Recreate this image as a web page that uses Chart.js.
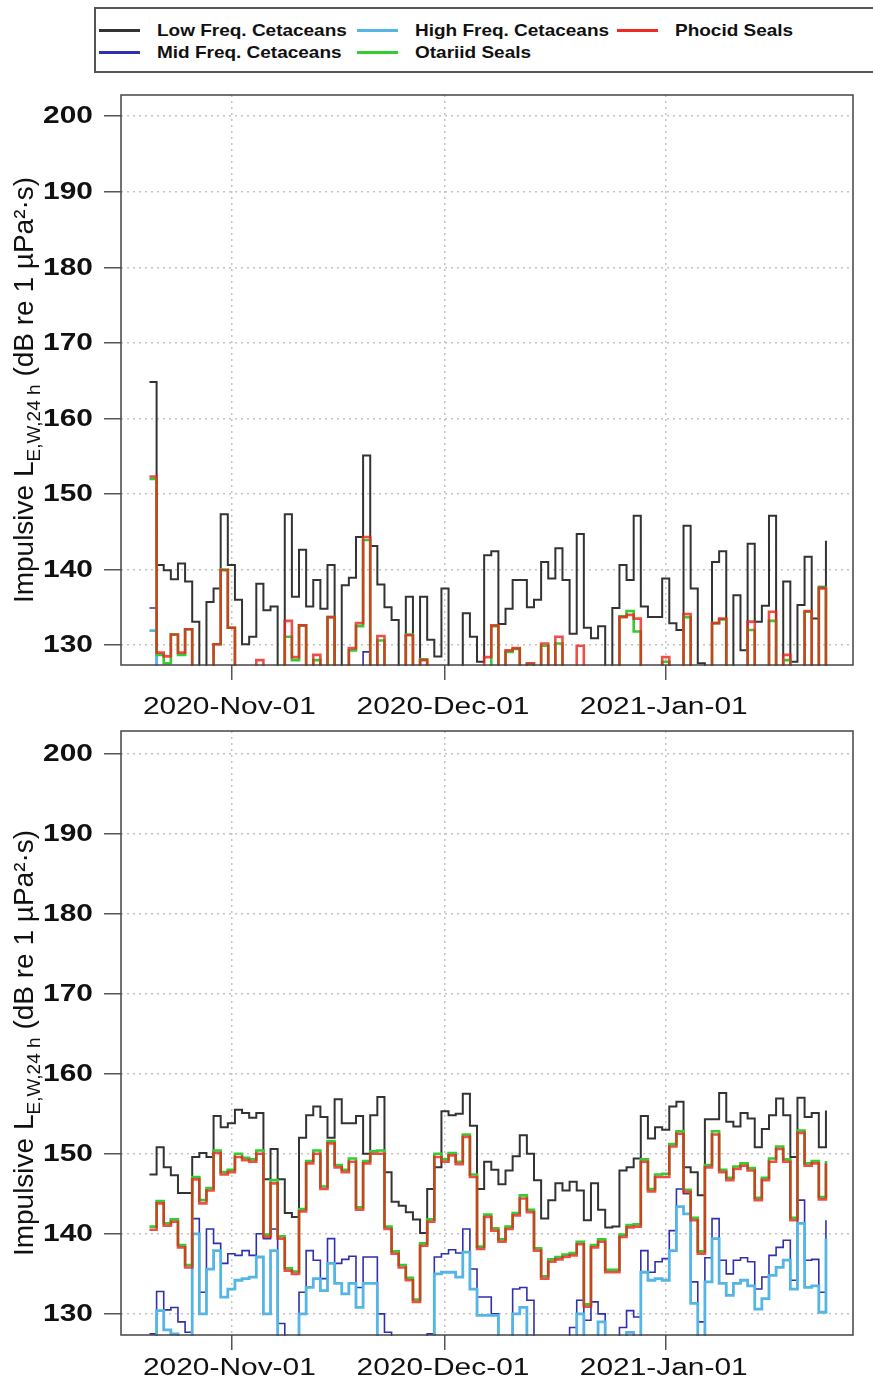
<!DOCTYPE html>
<html>
<head>
<meta charset="utf-8">
<title>Impulsive sound exposure</title>
<script src="https://cdn.jsdelivr.net/npm/chart.js@4.4.1/dist/chart.umd.min.js"></script>
<style>
  html, body { margin: 0; padding: 0; background: #fff; overflow: hidden; }
  body { width: 873px; height: 1393px; position: relative; font-family: "Liberation Sans", Arial, sans-serif; }
  #legend { position: absolute; left: 94px; top: 7px; width: 800px; height: 62px; border: 2px solid #555; }
  .item { position: absolute; height: 20px; width: 250px; }
  .item i { position: absolute; left: 0; top: 9px; width: 41px; height: 3px; }
  .item span { position: absolute; left: 58px; top: 0; font-weight: bold; font-size: 16.5px; line-height: 20px;
               white-space: nowrap; transform: scaleX(1.15); transform-origin: left center; color: #111; }
  .panel { position: absolute; left: 0; }
</style>
</head>
<body>
<div id="legend"></div>
<canvas id="top" class="panel" style="top:80px" width="873" height="650"></canvas>
<canvas id="bottom" class="panel" style="top:730px" width="873" height="663"></canvas>
<script>
// daily values from 2020-10-20 to 2021-01-23 (96 days)
const firstDay = '2020-10-20';
const nDays = 96;

const seriesNames = ['Low Freq. Cetaceans', 'Mid Freq. Cetaceans', 'High Freq. Cetaceans', 'Otariid Seals', 'Phocid Seals'];
const seriesColors = ['#333333', '#2f2fb0', '#55b5e5', '#33cc33', '#ee2a22'];

const yTicks = [130, 140, 150, 160, 170, 180, 190, 200];
const xTickDates = ['2020-11-01', '2020-12-01', '2021-01-01'];
const xTickLabels = ['2020-Nov-01', '2020-Dec-01', '2021-Jan-01'];

// upper panel
const topLow = [164.8, 140.6, 139.9, 138.7, 140.8, 138.4, 133.1, 122, 135.7, 137.5, 147.3, 140.6, 136.0, 130.1, 131.1, 138.1,
  134.6, 135.1, 122, 147.3, 136.4, 142.6, 135.1, 138.6, 134.8, 140.6, 122, 137.9, 138.9, 144.3, 155.1, 143.1,
  138.0, 135.0, 133.3, 122, 136.4, 122, 136.4, 130.7, 128.5, 137.5, 122, 122, 134.2, 131.1, 127.8, 141.9,
  142.4, 132.8, 134.8, 138.6, 138.6, 135.0, 136.0, 141.0, 138.8, 142.8, 138.6, 131.5, 144.7, 132.3, 130.9, 132.5,
  122, 134.9, 140.6, 138.6, 147.1, 135.1, 133.7, 133.7, 138.8, 132.9, 132.0, 145.8, 137.5, 127.6, 122, 141.0,
  142.4, 122, 136.6, 129.3, 143.4, 133.1, 135.2, 147.1, 122, 138.4, 127.8, 135.3, 141.7, 133.5, 137.7, 143.8];
const topMid = [134.9, 122, 122, 122, 122, 122, 122, 122, 122, 122, 122, 122, 122, 122, 122, 122,
  122, 122, 122, 122, 122, 122, 122, 122, 122, 122, 122, 122, 122, 122, 129.1, 122,
  122, 122, 122, 122, 122, 122, 122, 122, 122, 122, 122, 122, 122, 122, 122, 122,
  122, 122, 122, 122, 122, 122, 122, 122, 122, 122, 122, 122, 122, 122, 122, 122,
  122, 122, 122, 122, 122, 122, 122, 122, 122, 122, 122, 122, 122, 122, 122, 122,
  122, 122, 122, 122, 122, 122, 122, 122, 122, 122, 122, 122, 122, 122, 122, 122];
const topHigh = [131.9, 122, 122, 122, 122, 122, 122, 122, 122, 122, 122, 122, 122, 122, 122, 122,
  122, 122, 122, 122, 122, 122, 122, 122, 122, 122, 122, 122, 122, 122, 122, 122,
  122, 122, 122, 122, 122, 122, 122, 122, 122, 122, 122, 122, 122, 122, 122, 122,
  122, 122, 122, 122, 122, 122, 122, 122, 122, 122, 122, 122, 122, 122, 122, 122,
  122, 122, 122, 122, 122, 122, 122, 122, 122, 122, 122, 122, 122, 122, 122, 122,
  122, 122, 122, 122, 122, 122, 122, 122, 122, 122, 122, 122, 122, 122, 122, 122];
const topOtariid = [152.0, 128.7, 127.6, 131.4, 128.7, 132.1, 122, 122, 122, 130.1, 140.0, 132.3, 122, 122, 122, 122,
  122, 122, 122, 131.1, 128.0, 132.6, 122, 128.0, 122, 133.7, 122, 122, 129.3, 132.5, 143.9, 122,
  130.6, 122, 122, 122, 131.4, 122, 128.1, 122, 122, 122, 122, 122, 122, 122, 122, 122,
  132.5, 122, 129.1, 129.5, 122, 127.5, 122, 129.9, 122, 130.2, 122, 122, 122, 122, 122, 122,
  122, 122, 133.8, 134.5, 131.8, 122, 122, 122, 127.8, 122, 122, 133.7, 122, 122, 122, 132.9,
  133.4, 122, 122, 122, 132.0, 122, 122, 133.2, 122, 128.0, 122, 122, 134.4, 122, 137.6, 122];
const topPhocid = [152.3, 129.0, 128.5, 131.4, 129.0, 132.1, 122, 122, 122, 130.1, 139.9, 132.3, 122, 122, 122, 128.0,
  122, 122, 122, 133.2, 128.4, 132.6, 122, 128.7, 122, 133.7, 122, 122, 129.6, 132.9, 144.3, 122,
  131.2, 122, 122, 122, 131.3, 122, 128.0, 122, 122, 122, 122, 122, 122, 122, 122, 128.4,
  132.6, 122, 129.3, 129.6, 122, 127.6, 122, 130.2, 122, 131.1, 122, 122, 129.9, 122, 122, 122,
  122, 122, 133.7, 134.0, 133.5, 122, 122, 122, 128.4, 122, 122, 134.1, 122, 122, 122, 132.9,
  133.5, 122, 122, 122, 133.1, 122, 122, 134.4, 122, 128.7, 122, 122, 134.5, 122, 137.5, 122];

// lower panel
const botLow = [147.4, 150.8, 148.3, 147.3, 145.1, 145.1, 149.6, 150.1, 149.6, 154.7, 153.3, 153.8, 155.5, 155.1, 154.5, 155.1,
  146.8, 150.6, 146.8, 142.6, 142.1, 152.0, 154.8, 155.9, 154.6, 152.0, 156.8, 153.8, 153.8, 154.7, 150.0, 154.8,
  157.1, 147.7, 144.0, 143.5, 142.7, 141.8, 140.1, 145.6, 148.3, 155.3, 154.8, 155.0, 157.5, 153.5, 145.6, 149.0,
  148.0, 146.2, 147.9, 149.7, 152.3, 150.0, 146.7, 141.9, 144.2, 146.3, 145.4, 146.5, 145.4, 141.7, 146.3, 143.0,
  140.8, 140.9, 147.9, 148.3, 149.4, 154.7, 151.9, 153.3, 153.0, 155.9, 156.5, 148.3, 147.7, 144.8, 154.3, 154.3,
  157.6, 154.0, 153.4, 155.1, 154.4, 150.8, 153.1, 154.8, 156.9, 154.8, 149.6, 157.0, 154.6, 155.1, 150.8, 155.4];
const botMid = [127.5, 132.8, 130.5, 130.8, 129.0, 127.7, 141.9, 132.7, 140.6, 138.8, 136.3, 137.5, 137.3, 137.9, 137.3, 140.0,
  139.4, 140.6, 128.8, 122, 122, 132.7, 137.9, 136.7, 134.4, 139.4, 136.3, 136.8, 137.2, 133.3, 137.1, 137.1,
  130.0, 127.7, 122, 122, 122, 122, 122, 127.5, 137.1, 137.5, 138.0, 137.6, 140.6, 135.6, 132.1, 132.1,
  130.0, 122, 122, 133.1, 133.3, 131.7, 122, 122, 122, 122, 122, 128.3, 131.7, 129.2, 131.5, 130.0,
  122, 122, 128.3, 130.4, 129.6, 137.9, 135.2, 136.5, 136.9, 140.4, 145.6, 145.0, 134.0, 129.0, 137.0, 141.9,
  136.7, 135.0, 136.7, 137.0, 136.5, 133.1, 134.6, 137.3, 138.3, 139.2, 134.2, 144.2, 136.7, 136.8, 132.7, 141.7];
const botHigh = [122, 130.4, 128.0, 127.5, 122, 122, 140.0, 130.0, 135.6, 137.9, 132.1, 133.1, 134.2, 134.4, 134.6, 137.1,
  130.0, 137.9, 122, 122, 122, 130.0, 133.3, 134.4, 132.9, 136.3, 133.8, 132.5, 133.8, 130.8, 133.8, 133.8,
  122, 122, 122, 122, 122, 122, 122, 122, 135.0, 135.2, 135.2, 134.6, 137.7, 133.1, 129.8, 129.8,
  129.8, 122, 122, 130.0, 130.8, 122, 122, 122, 122, 122, 122, 122, 130.0, 122, 122, 129.0,
  122, 122, 122, 127.7, 122, 135.2, 134.2, 134.4, 134.2, 137.9, 143.4, 142.5, 131.3, 122, 134.0, 139.4,
  133.8, 132.3, 133.8, 134.2, 133.5, 130.6, 131.9, 134.8, 135.8, 136.7, 133.1, 141.3, 133.3, 133.5, 130.2, 139.4];
const botOtariid = [140.9, 144.1, 141.3, 141.8, 138.6, 136.1, 147.1, 144.2, 145.7, 150.4, 147.7, 148.0, 150.0, 149.5, 149.3, 150.4,
  139.9, 146.7, 139.7, 135.7, 135.3, 143.1, 149.1, 150.4, 145.9, 151.6, 148.6, 148.0, 149.4, 143.3, 149.1, 150.3,
  150.4, 140.9, 137.8, 136.1, 134.5, 131.8, 138.8, 141.8, 150.0, 149.3, 150.1, 149.0, 152.4, 147.4, 138.4, 142.4,
  140.7, 139.3, 140.9, 142.6, 144.8, 143.0, 138.2, 134.7, 136.8, 137.1, 137.4, 137.6, 139.0, 131.2, 138.6, 139.3,
  135.5, 135.5, 139.9, 141.1, 141.2, 149.3, 145.6, 147.4, 147.5, 151.2, 152.8, 145.5, 142.0, 137.8, 148.6, 152.8,
  148.0, 147.0, 148.4, 148.8, 148.2, 144.5, 147.0, 149.4, 150.9, 149.3, 142.0, 152.9, 148.8, 149.1, 144.6, 149.1];
const botPhocid = [140.5, 143.8, 141.0, 141.5, 138.3, 135.8, 146.8, 143.8, 145.4, 150.1, 147.4, 147.7, 149.6, 149.2, 149.0, 150.0,
  139.6, 146.3, 139.4, 135.4, 135.0, 142.8, 148.8, 150.0, 145.6, 151.3, 148.3, 147.7, 149.0, 143.0, 148.8, 150.0,
  150.0, 140.6, 137.5, 135.8, 134.2, 131.5, 138.5, 141.5, 149.6, 149.0, 149.8, 148.7, 152.1, 147.1, 138.1, 142.1,
  140.4, 139.0, 140.6, 142.3, 144.4, 142.7, 137.9, 134.4, 136.5, 136.8, 137.1, 137.3, 138.7, 130.9, 138.3, 139.0,
  135.2, 135.2, 139.6, 140.8, 140.9, 149.0, 145.3, 147.1, 147.1, 150.9, 152.5, 145.2, 141.7, 137.5, 148.3, 152.4,
  147.7, 146.7, 148.1, 148.5, 147.9, 144.2, 146.7, 149.0, 150.6, 149.0, 141.7, 152.6, 148.5, 148.8, 144.3, 148.8];

// x is measured in days from 2020-11-01, each day plotted at midday
const DAY = 86400000;
const origin = Date.UTC(2020, 10, 1);
const dayOf = s => (Date.parse(s + 'T00:00:00Z') - origin) / DAY;
const dayX = [];
for (let i = 0; i < nDays; i++) dayX.push(dayOf(firstDay) + i + 0.5);
const xTicks = xTickDates.map(dayOf);

// legend, three columns filled top to bottom
const legendSlots = [[3, 11], [3, 33], [261, 11], [261, 33], [521, 11]];
const legendEl = document.getElementById('legend');
seriesNames.forEach((name, i) => {
  const d = document.createElement('div');
  d.className = 'item';
  d.style.left = legendSlots[i][0] + 'px';
  d.style.top = legendSlots[i][1] + 'px';
  d.innerHTML = '<i style="background:' + seriesColors[i] + '"></i><span>' + name + '</span>';
  legendEl.appendChild(d);
});

// frame, tick labels and the y title (with its subscript)
const axisText = {
  id: 'axisText',
  afterDraw(chart, args, opts) {
    const { ctx, chartArea: a } = chart;
    const xs = chart.scales.x, ys = chart.scales.y;
    ctx.save();
    ctx.strokeStyle = '#444';
    ctx.lineWidth = 1.5;
    ctx.strokeRect(a.left, a.top, a.right - a.left, a.bottom - a.top);

    ctx.fillStyle = '#111';
    ctx.font = 'bold 23px "Liberation Sans", Arial, sans-serif';
    ctx.textAlign = 'right';
    ctx.textBaseline = 'middle';
    ys.ticks.forEach(t => {
      ctx.save();
      ctx.translate(93, ys.getPixelForValue(t.value) + 1);
      ctx.scale(1.3, 1);
      ctx.fillText(String(t.value), 0, 0);
      ctx.restore();
    });

    ctx.font = '23px "Liberation Sans", Arial, sans-serif';
    ctx.textAlign = 'center';
    ctx.textBaseline = 'alphabetic';
    xs.ticks.forEach((t, i) => {
      ctx.save();
      ctx.translate(xs.getPixelForValue(t.value) - 2, a.bottom + opts.labelOffset);
      ctx.scale(1.3, 1);
      ctx.fillText(xTickLabels[i], 0, 0);
      ctx.restore();
    });

    const parts = [
      { s: 'Impulsive L', f: '28px', dy: 0 },
      { s: 'E,W,24 h', f: '19px', dy: 7 },
      { s: ' (dB re 1 µPa²·s)', f: '28px', dy: 0 }
    ];
    let total = 0;
    parts.forEach(p => {
      ctx.font = p.f + ' "Liberation Sans", Arial, sans-serif';
      p.w = ctx.measureText(p.s).width;
      total += p.w;
    });
    ctx.translate(opts.titleX, (a.top + a.bottom) / 2 + 10);
    ctx.rotate(-Math.PI / 2);
    ctx.textAlign = 'left';
    let cx = -total / 2;
    parts.forEach(p => {
      ctx.font = p.f + ' "Liberation Sans", Arial, sans-serif';
      ctx.fillText(p.s, cx, p.dy);
      cx += p.w;
    });
    ctx.restore();
  }
};

function makePanel(id, values, padTop, xHeight, labelOffset) {
  const widths = [2, 1.6, 2.8, 2.6, 2.6];
  const colors = ['#333333', '#2f2fb0', '#55b5e5', '#33cc33', 'rgba(235, 35, 28, 0.8)'];
  const datasets = values.map((v, s) => ({
    label: seriesNames[s],
    data: v.map((y, i) => ({ x: dayX[i], y: y })),
    borderColor: colors[s],
    borderWidth: widths[s],
    stepped: true,
    pointRadius: 0,
    fill: false,
    clip: 1,
    order: 5 - s
  }));
  return new Chart(document.getElementById(id), {
    type: 'line',
    data: { datasets: datasets },
    options: {
      responsive: false,
      animation: false,
      devicePixelRatio: 1,
      events: [],
      layout: { padding: { top: padTop, right: 20, left: 0, bottom: 0 } },
      plugins: {
        legend: { display: false },
        tooltip: { enabled: false },
        axisText: { labelOffset: labelOffset, titleX: 33 }
      },
      scales: {
        x: {
          type: 'linear',
          min: -15.5,
          max: 87.3,
          afterBuildTicks: sc => { sc.ticks = xTicks.map(v => ({ value: v })); },
          afterFit: sc => { sc.height = xHeight; },
          ticks: { display: false },
          grid: { color: '#c4c4c4', lineWidth: 1.5, tickLength: 15, tickColor: '#555', tickWidth: 1.5 },
          border: { display: false, dash: [2, 4] }
        },
        y: {
          min: 127.36,
          max: 202.8,
          afterBuildTicks: sc => { sc.ticks = yTicks.map(v => ({ value: v })); },
          afterFit: sc => { sc.width = 121; },
          ticks: { display: false },
          grid: { color: '#c4c4c4', lineWidth: 1.5, tickLength: 17, tickColor: '#555', tickWidth: 1.5 },
          border: { display: false, dash: [2, 4] }
        }
      }
    },
    plugins: [axisText]
  });
}

makePanel('top', [topLow, topMid, topHigh, topOtariid, topPhocid], 15, 65, 49);
makePanel('bottom', [botLow, botMid, botHigh, botOtariid, botPhocid], 1, 58, 40);
</script>
</body>
</html>
